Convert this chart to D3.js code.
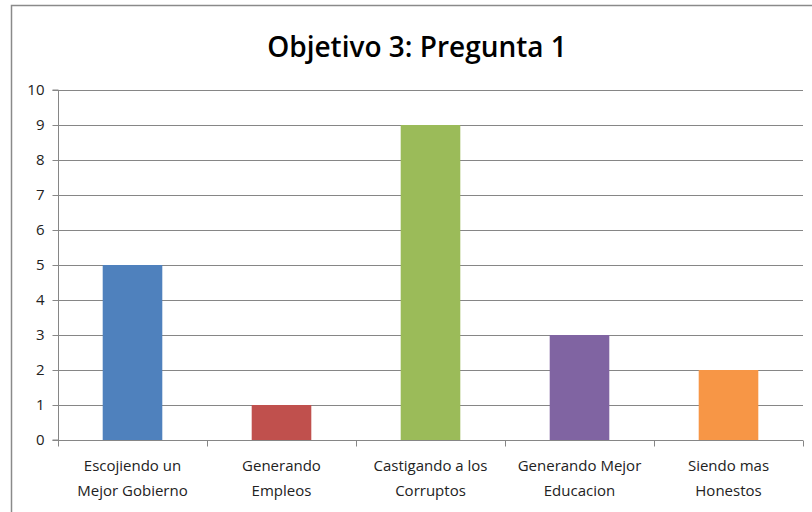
<!DOCTYPE html>
<html><head><meta charset="utf-8">
<script src="https://cdn.jsdelivr.net/npm/d3@7"></script>
<style>body{margin:0;background:#fff}svg{display:block}</style>
</head><body>
<script>
const categories = [["Escojiendo un","Mejor Gobierno"],["Generando","Empleos"],["Castigando a los","Corruptos"],["Generando Mejor","Educacion"],["Siendo mas","Honestos"]];
const values = [5, 1, 9, 3, 2];
const colors = ["#4F81BD","#C0504D","#9BBB59","#8064A2","#F79646"];
const yTicks = [0,1,2,3,4,5,6,7,8,9,10];
const title = "Objetivo 3: Pregunta 1";

(function(){
const W = 812, H = 512;
const svg = d3.select("body").append("svg").attr("width", W).attr("height", H);
const font = "'Open Sans', 'Liberation Sans', sans-serif";

// outer border
svg.append("path").attr("d", `M11.5,${H} L11.5,5.5 L${W},5.5`).attr("fill","none").attr("stroke","#8a8a8a").attr("stroke-width",1.5);

const pL = 58, pR = 803, pT = 90, pB = 440;
const x = d3.scaleBand().domain(d3.range(categories.length)).range([pL, pR]).paddingInner(0.6).paddingOuter(0.3);
const xb = d3.scaleBand().domain(d3.range(categories.length)).range([pL, pR]);
const y = d3.scaleLinear().domain([0, 10]).range([pB, pT]);

// gridlines
svg.append("g").selectAll("line").data(yTicks.filter(d=>d>0)).join("line")
  .attr("x1", pL).attr("x2", pR).attr("y1", d=>Math.round(y(d))+0.5).attr("y2", d=>Math.round(y(d))+0.5)
  .attr("stroke","#868686").attr("stroke-width",1);

// bars
svg.append("g").selectAll("rect").data(values).join("rect")
  .attr("x",(d,i)=>x(i)).attr("width",x.bandwidth())
  .attr("y",d=>y(d)).attr("height",d=>y(0)-y(d))
  .attr("fill",(d,i)=>colors[i]);

// y axis
const yAxis = d3.axisLeft(y).tickValues(yTicks).tickSize(6).tickPadding(8);
const gy = svg.append("g").attr("transform",`translate(${pL+0.5},0)`).call(yAxis);
gy.select(".domain").attr("stroke","#868686").attr("d",`M-6,${pT}H0V${pB}H-6`);
gy.selectAll(".tick line").attr("stroke","#868686");
gy.selectAll(".tick").attr("transform", d=>`translate(0,${Math.round(y(d))+0.5})`);
gy.selectAll("text").attr("font-family",font).attr("font-size",15).attr("fill","#222");

// x axis
const gx = svg.append("g").attr("transform",`translate(0,${pB+0.5})`);
gx.append("line").attr("x1",pL).attr("x2",pR).attr("stroke","#868686");
gx.selectAll("line.t").data(d3.range(categories.length+1)).join("line").attr("class","t")
  .attr("x1",i=>Math.round(pL + i*xb.bandwidth())+0.5).attr("x2",i=>Math.round(pL + i*xb.bandwidth())+0.5)
  .attr("y1",0).attr("y2",6).attr("stroke","#868686");
const lbl = svg.append("g").selectAll("text").data(categories).join("text")
  .attr("x",(d,i)=>xb(i)+xb.bandwidth()/2).attr("y",471)
  .attr("text-anchor","middle").attr("font-family",font).attr("font-size",15).attr("fill","#222");
lbl.each(function(d){
  const t = d3.select(this);
  d.forEach((s,k)=>t.append("tspan").attr("x",t.attr("x")).attr("dy",k?25:0).text(s));
});

// title
svg.append("text").attr("x",417).attr("y",57).attr("text-anchor","middle")
  .attr("font-family",font).attr("font-weight","600").attr("font-size",28).attr("fill","#000").text(title);
})();
</script>
</body></html>
